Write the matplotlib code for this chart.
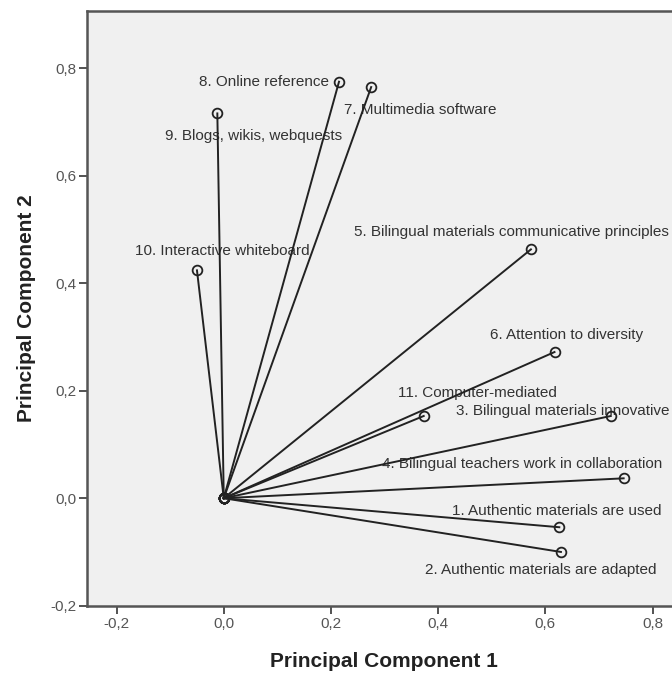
import matplotlib
matplotlib.use("Agg")
import matplotlib.pyplot as plt
from matplotlib.ticker import FuncFormatter

# Data: component loadings
labels = [
    "1. Authentic materials are used",
    "2. Authentic materials are adapted",
    "3. Bilingual materials innovative",
    "4. Bilingual teachers work in collaboration",
    "5. Bilingual materials communicative principles",
    "6. Attention to diversity",
    "7. Multimedia software",
    "8. Online reference",
    "9. Blogs, wikis, webquests",
    "10. Interactive whiteboard",
    "11. Computer-mediated",
]
pc1 = [0.626, 0.629, 0.722, 0.746, 0.573, 0.617, 0.275, 0.215, -0.012, -0.050, 0.373]
pc2 = [-0.054, -0.100, 0.153, 0.037, 0.463, 0.272, 0.765, 0.775, 0.716, 0.424, 0.153]

x_ticks = [-0.2, 0.0, 0.2, 0.4, 0.6, 0.8]
y_ticks = [-0.2, 0.0, 0.2, 0.4, 0.6, 0.8]

# label placement (offset in pixels from the point, horizontal alignment)
label_pos = [
    (-3, 16, "center"),
    (-20, -18, "center"),
    (59, 5, "right"),
    (-102, 14, "center"),
    (-177, 17, "left"),
    (12, 17, "center"),
    (-27, -23, "left"),
    (-10, 0, "right"),
    (-52, -23, "left"),
    (25, 19, "center"),
    (54, 23, "center"),
]

plt.rcParams["font.family"] = ["Liberation Sans", "DejaVu Sans"]

fig = plt.figure(figsize=(6.72, 6.73), dpi=100)
ax = fig.add_axes([0.1299, 0.1, 0.8835, 0.884])
ax.set_facecolor("#f0f0f0")

line_col = "#222222"
for i in range(len(labels)):
    ax.plot([0, pc1[i]], [0, pc2[i]], color=line_col, lw=1.4,
            marker="o", markersize=7, markerfacecolor="none",
            markeredgecolor=line_col, markeredgewidth=1.3, zorder=3)
    dx, dy, ha = label_pos[i]
    ax.annotate(labels[i], (pc1[i], pc2[i]), textcoords="offset pixels",
                xytext=(dx, dy), ha=ha, va="center", fontsize=11,
                color="#333333", zorder=2)

ax.set_xlim(-0.2546, 0.853)
ax.set_ylim(-0.2, 0.907)
ax.set_xticks(x_ticks)
ax.set_yticks(y_ticks)
fmt = FuncFormatter(lambda v, p: f"{v:.1f}".replace(".", ",").replace("-0,0", "0,0"))
ax.xaxis.set_major_formatter(fmt)
ax.yaxis.set_major_formatter(fmt)
ax.tick_params(axis="both", direction="out", length=6, width=1.3,
               color="#444444", labelcolor="#555555", labelsize=11, pad=2)

for s in ax.spines.values():
    s.set_color("#555555")
    s.set_linewidth(1.8)

ax.set_xlabel("Principal Component 1", fontsize=15, fontweight="bold",
              color="#222222", labelpad=15)
ax.set_ylabel("Principal Component 2", fontsize=15, fontweight="bold",
              color="#222222", labelpad=10)

fig.savefig("out.png", dpi=100)
